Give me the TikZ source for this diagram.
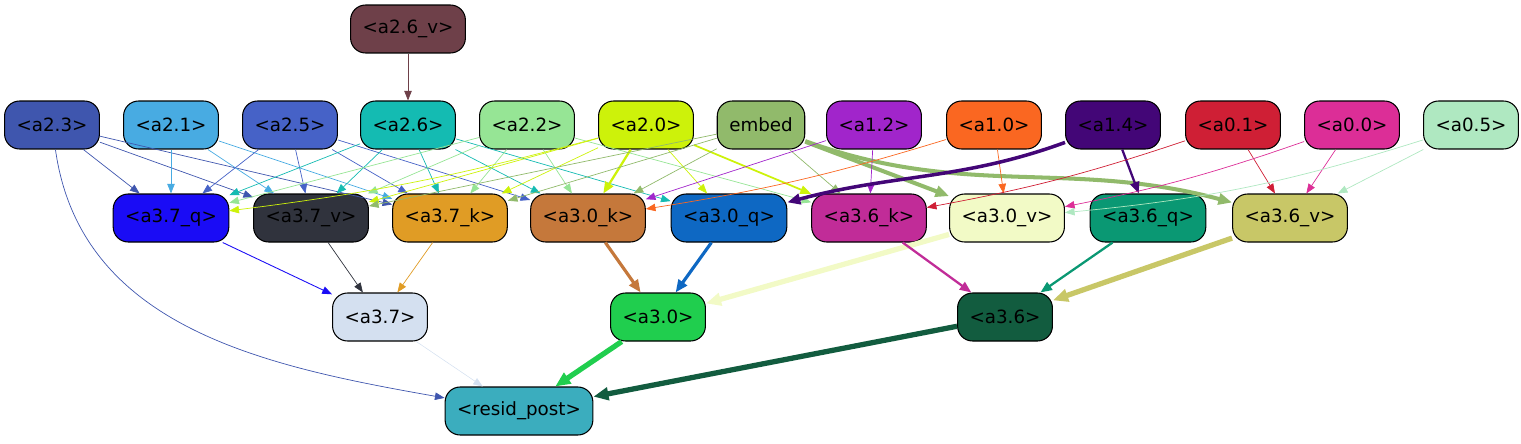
\documentclass[tikz,border=0pt]{standalone}
\usepackage{fontspec}
\setmainfont{DejaVu Sans}
\usetikzlibrary{arrows.meta}

\definecolor{ca26v}{HTML}{6E4049}
\definecolor{ca23}{HTML}{3F56AE}
\definecolor{ca21}{HTML}{48ABE2}
\definecolor{ca25}{HTML}{4662C7}
\definecolor{ca26}{HTML}{14BBB2}
\definecolor{ca22}{HTML}{96E595}
\definecolor{ca20}{HTML}{CDF20A}
\definecolor{cembed}{HTML}{91BA6B}
\definecolor{ca12}{HTML}{A125CB}
\definecolor{ca10}{HTML}{FA6721}
\definecolor{ca14}{HTML}{430677}
\definecolor{ca01}{HTML}{CF1F35}
\definecolor{ca00}{HTML}{DC2E97}
\definecolor{ca05}{HTML}{AFE8C1}
\definecolor{ca37q}{HTML}{1A0CF5}
\definecolor{ca37v}{HTML}{30333D}
\definecolor{ca37k}{HTML}{E09C25}
\definecolor{ca30k}{HTML}{C5783B}
\definecolor{ca30q}{HTML}{0E68C3}
\definecolor{ca36k}{HTML}{C12C98}
\definecolor{ca30v}{HTML}{F2FAC6}
\definecolor{ca36q}{HTML}{0A9873}
\definecolor{ca36v}{HTML}{C8C767}
\definecolor{ca37}{HTML}{D4E0F0}
\definecolor{ca30}{HTML}{20CE4E}
\definecolor{ca36}{HTML}{125C3F}
\definecolor{cresid}{HTML}{3BADBE}

\begin{document}
\begin{tikzpicture}[x=0.02cm, y=0.02cm, >={Triangle[length=5pt 1.2, width=3.8pt 1.1]}, font=\fontsize{10.4}{12}\selectfont]
		\tikzstyle{block} = [draw=black, rounded corners=0.3cm, minimum height=0.96cm, inner xsep=0.24cm, line width=0.6pt]
		\tikzstyle{arrow} = [->, line width=0.4pt]
		
		\useasboundingbox (0,0) rectangle (1521,-443);
		
		\node[block, fill=ca26v]	at (408, -29)	(a26v)	{<a2.6\_v>};
		
		\node[block, fill=ca23]		at (52, -125)	(a23)	{<a2.3>};
		\node[block, fill=ca21]		at (171, -125)	(a21)	{<a2.1>};
		\node[block, fill=ca25]		at (290, -125)	(a25)	{<a2.5>};
		\node[block, fill=ca26]		at (408, -125)	(a26)	{<a2.6>};
		\node[block, fill=ca22]		at (527, -125)	(a22)	{<a2.2>};
		\node[block, fill=ca20]		at (646, -125)	(a20)	{<a2.0>};
		\node[block, fill=cembed]	at (761, -125)	(embed)	{embed};
		\node[block, fill=ca12]		at (874, -125)	(a12)	{<a1.2>};
		\node[block, fill=ca10]		at (994, -125)	(a10)	{<a1.0>};
		\node[block, fill=ca14]		at (1113, -125)	(a14)	{<a1.4>};
		\node[block, fill=ca01]		at (1233, -125)	(a01)	{<a0.1>};
		\node[block, fill=ca00]		at (1352, -125)	(a00)	{<a0.0>};
		\node[block, fill=ca05]		at (1471, -125)	(a05)	{<a0.5>};
		
		\node[block, fill=ca37q]	at (171, -218)	(a37q)	{<a3.7\_q>};
		\node[block, fill=ca37v]	at (311, -218)	(a37v)	{<a3.7\_v>};
		\node[block, fill=ca37k]	at (450, -218)	(a37k)	{<a3.7\_k>};
		\node[block, fill=ca30k]	at (588, -218)	(a30k)	{<a3.0\_k>};
		\node[block, fill=ca30q]	at (729, -218)	(a30q)	{<a3.0\_q>};
		\node[block, fill=ca36k]	at (869, -218)	(a36k)	{<a3.6\_k>};
		\node[block, fill=ca30v]	at (1007, -218)	(a30v)	{<a3.0\_v>};
		\node[block, fill=ca36q]	at (1148, -218)	(a36q)	{<a3.6\_q>};
		\node[block, fill=ca36v]	at (1290, -218)	(a36v)	{<a3.6\_v>};
		
		\node[block, fill=ca37]		at (380, -317)	(a37)	{<a3.7>};
		\node[block, fill=ca30]		at (658, -317)	(a30)	{<a3.0>};
		\node[block, fill=ca36]		at (1005, -317)	(a36)	{<a3.6>};
		
		\node[block, fill=cresid]	at (519, -411)	(resid)	{<resid\_post>};
		
		\draw [arrow, ca26v] (a26v) -- (a26);
		
		\draw [arrow, ca23] (a23) -- (a37q);
		\draw [arrow, ca23] (a23) -- (a37v);
		\draw [arrow, ca23] (a23) -- (a37k);
		\draw [arrow, ca23] (a23) to[out=-82, in=170] (resid);
		
		\draw [arrow, ca21] (a21) -- (a37q);
		\draw [arrow, ca21] (a21) -- (a37v);
		\draw [arrow, ca21] (a21) -- (a37k);
		
		\draw [arrow, ca25] (a25) -- (a37q);
		\draw [arrow, ca25] (a25) -- (a37v);
		\draw [arrow, ca25] (a25) -- (a37k);
		\draw [arrow, ca25] (a25) -- (a30k);
		
		\draw [arrow, ca26] (a26) -- (a37q);
		\draw [arrow, ca26] (a26) -- (a37v);
		\draw [arrow, ca26] (a26) -- (a37k);
		\draw [arrow, ca26] (a26) -- (a30k);
		\draw [arrow, ca26] (a26) -- (a30q);
		
		\draw [arrow, ca22] (a22) -- (a37q);
		\draw [arrow, ca22] (a22) -- (a37v);
		\draw [arrow, ca22] (a22) -- (a37k);
		\draw [arrow, ca22] (a22) -- (a30k);
		\draw [arrow, ca22] (a22) -- (a36k);
		
		\draw [arrow, ca20] (a20) to[bend left=4] (a37q);
		\draw [arrow, ca20] (a20) -- (a37v);
		\draw [arrow, ca20] (a20) -- (a37k);
		\draw [arrow, ca20, line width=1.3pt] (a20) -- (a30k);
		\draw [arrow, ca20] (a20) -- (a30q);
		\draw [arrow, ca20, line width=1pt] (a20) -- (a36k);
		
		\draw [arrow, cembed] (embed) -- (a37v);
		\draw [arrow, cembed] (embed) -- (a37k);
		\draw [arrow, cembed] (embed) -- (a30k);
		\draw [arrow, cembed] (embed) -- (a36k);
		\draw [arrow, cembed, line width=2.3pt] (embed) -- (a30v);
		\draw [arrow, cembed, line width=2.3pt] (embed) to[out=-20, in=165] (a36v);
		
		\draw [arrow, ca12] (a12) -- (a30k);
		\draw [arrow, ca12] (a12) -- (a36k);
		
		\draw [arrow, ca10] (a10) to[bend left=4] (a30k);
		\draw [arrow, ca10] (a10) -- (a30v);
		
		\draw [arrow, ca14, line width=2pt] (a14) to[out=-160, in=15] (a30q);
		\draw [arrow, ca14, line width=1.3pt] (a14) -- (a36q);
		
		\draw [arrow, ca01] (a01) to[bend left=4] (a36k);
		\draw [arrow, ca01] (a01) -- (a36v);
		
		\draw [arrow, ca00] (a00) to[bend left=4] (a30v);
		\draw [arrow, ca00] (a00) -- (a36v);
		
		\draw [arrow, ca05] (a05) to[bend left=6] (a30v);
		\draw [arrow, ca05] (a05) -- (a36v);
		
		\draw [arrow, ca37q, line width=0.5pt] (a37q) -- (a37);
		\draw [arrow, ca37v] (a37v) -- (a37);
		\draw [arrow, ca37k] (a37k) -- (a37);
		
		\draw [arrow, ca30k, line width=1.8pt] (a30k) -- (a30);
		\draw [arrow, ca30q, line width=1.8pt] (a30q) -- (a30);
		\draw [arrow, ca30v, line width=3pt] (a30v) -- (a30);
		
		\draw [arrow, ca36k, line width=1.3pt] (a36k) -- (a36);
		\draw [arrow, ca36q, line width=1.3pt] (a36q) -- (a36);
		\draw [arrow, ca36v, line width=3pt] (a36v) -- (a36);
		
		\draw [arrow, ca37, line width=0.3pt] (a37) -- (resid);
		\draw [arrow, ca30, line width=3pt] (a30) -- (resid);
		\draw [arrow, ca36, line width=3pt] (a36) -- (resid);
		
	\end{tikzpicture}
\end{document}
